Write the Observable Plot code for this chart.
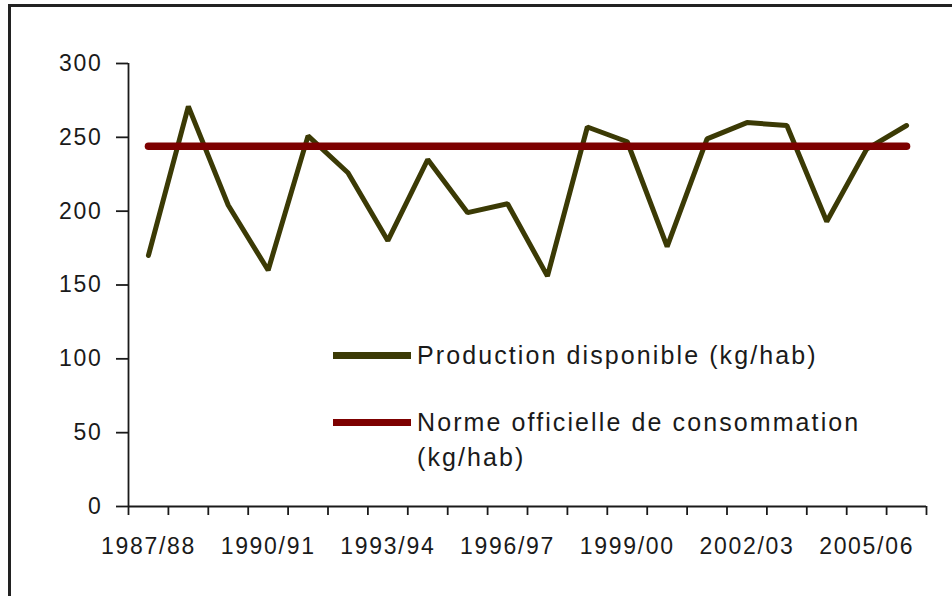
<!DOCTYPE html>
<html>
<head>
<meta charset="utf-8">
<script src="https://cdn.jsdelivr.net/npm/d3@7"></script>
<script src="https://cdn.jsdelivr.net/npm/@observablehq/plot@0.6"></script>
<style>
  html, body { margin: 0; padding: 0; background: #fff; overflow: hidden; }
  #wrap { position: relative; width: 952px; height: 596px; overflow: hidden; font-family: "Liberation Sans", Arial, sans-serif; color: #1a1a1a; }
  #frame { position: absolute; left: 8px; top: 4px; width: 1100px; height: 800px; border: 3px solid #222; box-sizing: border-box; }
  #chart { position: absolute; left: 0; top: 0; }
  .leg { position: absolute; left: 333px; display: flex; align-items: flex-start; }
  .sw { width: 78px; height: 7px; margin-top: 0; }
  .lt { position: absolute; left: 84px; font-size: 25px; letter-spacing: 2.1px; line-height: 35px; white-space: nowrap; }
</style>
</head>
<body>
<div id="wrap">
  <div id="frame"></div>
  <div id="chart"></div>
  <div id="legend"></div>
</div>
<script>
const seasons = ["1987/88","1988/89","1989/90","1990/91","1991/92","1992/93","1993/94","1994/95","1995/96","1996/97",
                 "1997/98","1998/99","1999/00","2000/01","2001/02","2002/03","2003/04","2004/05","2005/06","2006/07"];
const production = [170, 271, 204, 160, 251, 226, 180, 235, 199, 205, 156, 257, 247, 176, 249, 260, 258, 193, 242, 258];
const norme = [244, 244, 244, 244, 244, 244, 244, 244, 244, 244, 244, 244, 244, 244, 244, 244, 244, 244, 244, 244];
const yTicks = [0, 50, 100, 150, 200, 250, 300];
const labelledSeasons = ["1987/88","1990/91","1993/94","1996/97","1999/00","2002/03","2005/06"];
const seriesNames = ["Production disponible (kg/hab)", "Norme officielle de consommation\n(kg/hab)"];
const seriesColors = ["#3b3a05", "#7d0000"];

const idx = seasons.map((s, i) => i);
const boundaries = d3.range(-0.5, seasons.length, 1);
const labelIdx = labelledSeasons.map(s => seasons.indexOf(s));

const chart = Plot.plot({
  width: 952,
  height: 596,
  marginLeft: 128,
  marginRight: 26,
  marginTop: 63,
  marginBottom: 90,
  style: { fontFamily: "'Liberation Sans', Arial, sans-serif", fontSize: "23px", color: "#1a1a1a", background: "transparent", letterSpacing: "1.7px" },
  x: { domain: [-0.5, seasons.length - 0.5] },
  y: { domain: [0, 300] },
  marks: [
    Plot.axisY(yTicks, { tickSize: 12, tickPadding: 14, strokeWidth: 1.8, label: null, fontSize: 23 }),
    Plot.axisX(boundaries, { tickSize: 9, tickFormat: () => "", strokeWidth: 1.8, label: null }),
    Plot.axisX(labelIdx, { tickSize: 0, tickPadding: 31, tickFormat: i => seasons[i], label: null, fontSize: 23 }),
    Plot.ruleX([-0.5], { strokeWidth: 1.8, stroke: "#1a1a1a" }),
    Plot.ruleY([0], { strokeWidth: 1.8, stroke: "#1a1a1a" }),
    Plot.line(production, { x: (d, i) => idx[i], y: d => d, stroke: seriesColors[0], strokeWidth: 5, strokeLinejoin: "miter" }),
    Plot.line(norme, { x: (d, i) => idx[i], y: d => d, stroke: seriesColors[1], strokeWidth: 7.5 })
  ]
});
document.getElementById("chart").appendChild(chart);

// legend
const legend = document.getElementById("legend");
const legTops = [352, 419];
seriesNames.forEach((name, k) => {
  const item = document.createElement("div");
  item.className = "leg";
  item.style.top = legTops[k] + "px";
  const sw = document.createElement("div");
  sw.className = "sw";
  sw.style.background = seriesColors[k];
  const lt = document.createElement("div");
  lt.className = "lt";
  lt.style.top = "-14px";
  lt.innerHTML = name.split("\n").join("<br>");
  item.appendChild(sw);
  item.appendChild(lt);
  legend.appendChild(item);
});
</script>
</body>
</html>
